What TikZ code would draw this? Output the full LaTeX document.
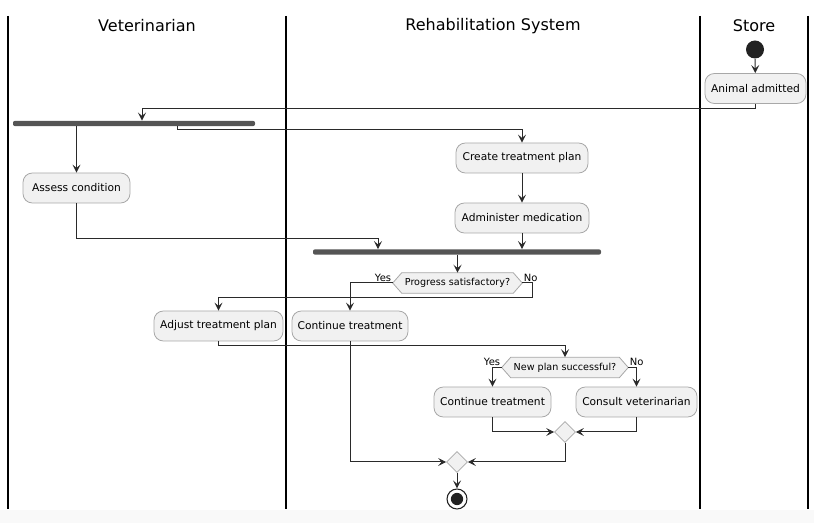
\documentclass[tikz,border=0pt]{standalone}
\usepackage{fontspec}
\setmainfont{DejaVu Sans}
\usetikzlibrary{arrows.meta,calc,shapes.geometric}
\definecolor{boxfill}{HTML}{F1F1F1}
\definecolor{boxline}{HTML}{A8A8A8}
\definecolor{arrline}{HTML}{2A2A2A}
\definecolor{barcol}{HTML}{555555}
\definecolor{startcol}{HTML}{222222}
\definecolor{band}{HTML}{F9F9F9}
\pgfdeclarelayer{bg}
\pgfsetlayers{bg,main}
\begin{document}
\begin{tikzpicture}[x=0.75pt,y=-0.75pt,
  act/.style={draw=boxline, fill=boxfill, rounded corners=7pt, minimum height=22.5pt, inner sep=0pt, font=\fontsize{8}{9}\selectfont, line width=0.6pt},
  bar/.style={fill=barcol, rounded corners=1.5pt, minimum height=4pt, inner sep=0pt},
  arr/.style={draw=arrline, line width=0.75pt, -{Stealth[length=6pt,width=6pt,inset=2.5pt]}},
  ln/.style={draw=arrline, line width=0.75pt},
  lane/.style={line width=1.1pt, black},
  hdr/.style={font=\fontsize{12}{14}\selectfont, inner sep=0pt},
  deci/.style={inner sep=0pt, minimum height=15pt, font=\fontsize{7.2}{8}\selectfont},
  hexa/.style={draw=boxline, fill=boxfill, line width=0.6pt},
  lbl/.style={font=\fontsize{7.5}{8}\selectfont, inner sep=1pt},
  merge/.style={diamond, draw=boxline, fill=boxfill, line width=0.6pt, minimum width=15.75pt, minimum height=15.75pt, inner sep=0pt}
]
\useasboundingbox (0,0) rectangle (814,523);
\fill[band] (0,510) rectangle (814,523);

% lanes
\draw[lane] (8,16) -- (8,509);
\draw[lane] (286,16) -- (286,509);
\draw[lane] (700,16) -- (700,509);
\draw[lane] (808,16) -- (808,509);
\node[hdr] (h1) at (147,26) {Veterinarian};
\node[hdr] (h2) at (493,26) {Rehabilitation System};
\node[hdr] (h3) at (754,26) {Store};

% nodes
\node[circle, fill=startcol, minimum size=13.5pt, inner sep=0pt] (start) at (755,49.5) {};
\node[act, minimum width=75.75pt] (aa) at (755.5,88.5) {Animal admitted};
\node[bar, minimum width=181.5pt] (fork) at (134,123.5) {};
\node[act, minimum width=80.25pt] (assess) at (76.5,188) {Assess condition};
\node[act, minimum width=99pt] (create) at (522,158) {Create treatment plan};
\node[act, minimum width=100.5pt] (admin) at (522,218) {Administer medication};
\node[bar, minimum width=216pt] (join) at (457,252) {};
\node[deci, minimum width=96.75pt] (d1) at (457.5,283) {Progress satisfactory?};
\node[act, minimum width=96.75pt] (adjust) at (218.5,326) {Adjust treatment plan};
\node[act, minimum width=87pt] (cont1) at (350,326) {Continue treatment};
\node[deci, minimum width=94.5pt] (d2) at (565,367.5) {New plan successful?};
\node[act, minimum width=87.75pt] (cont2) at (492.5,402) {Continue treatment};
\node[act, minimum width=90.75pt] (cons) at (636.5,402) {Consult veterinarian};
\node[merge] (m1) at (565,432) {};
\node[merge] (m2) at (457,462) {};
\node[circle, draw=startcol, fill=white, line width=0.8pt, minimum size=15pt, inner sep=0pt] (end) at (457,499) {};
\fill[startcol] (end.center) circle (4.6pt);

% hexagons behind decision text
\begin{pgfonlayer}{bg}
\draw[hexa] (d1.west) -- ($(d1.north west)+(9,0)$) -- ($(d1.north east)+(-9,0)$) -- (d1.east) -- ($(d1.south east)+(-9,0)$) -- ($(d1.south west)+(9,0)$) -- cycle;
\draw[hexa] (d2.west) -- ($(d2.north west)+(9,0)$) -- ($(d2.north east)+(-9,0)$) -- (d2.east) -- ($(d2.south east)+(-9,0)$) -- ($(d2.south west)+(9,0)$) -- cycle;
\end{pgfonlayer}

% labels
\node[lbl, anchor=south east] (y1) at (d1.west) {Yes};
\node[lbl, anchor=south west] (n1) at (d1.east) {No};
\node[lbl, anchor=south east] (y2) at (d2.west) {Yes};
\node[lbl, anchor=south west] (n2) at (d2.east) {No};

% connectors
\draw[arr] (start) -- (aa);
\draw[arr] (aa.south) -- ++(0,4.5) -| ($(fork.north)+(8,0)$);
\draw[arr] (fork.south -| assess.north) -- (assess.north);
\draw[arr] ($(fork.south)+(43,0)$) -- ++(0,3) -| (create.north);
\draw[arr] (create) -- (admin);
\draw[arr] (admin.south) -- (admin.south |- join.north);
\draw[arr] (assess.south) -- ++(0,35) -| ($(join.north)+(-79,0)$);
\draw[arr] (join.south -| d1.north) -- (d1.north);
\draw[arr] (d1.west) -| (cont1.north);
\draw[arr] (d1.east) -- ++(10,0) -- ++(0,15) -| (adjust.north);
\draw[arr] (adjust.south) -- ++(0,4) -| (d2.north);
\draw[arr] (d2.west) -| (cont2.north);
\draw[arr] (d2.east) -| (cons.north);
\draw[arr] (cont2.south) |- (m1.west);
\draw[arr] (cons.south) |- (m1.east);
\draw[arr] (m1.south) |- (m2.east);
\draw[arr] (cont1.south) |- (m2.west);
\draw[arr] (m2.south) -- (end.north);
\end{tikzpicture}
\end{document}
